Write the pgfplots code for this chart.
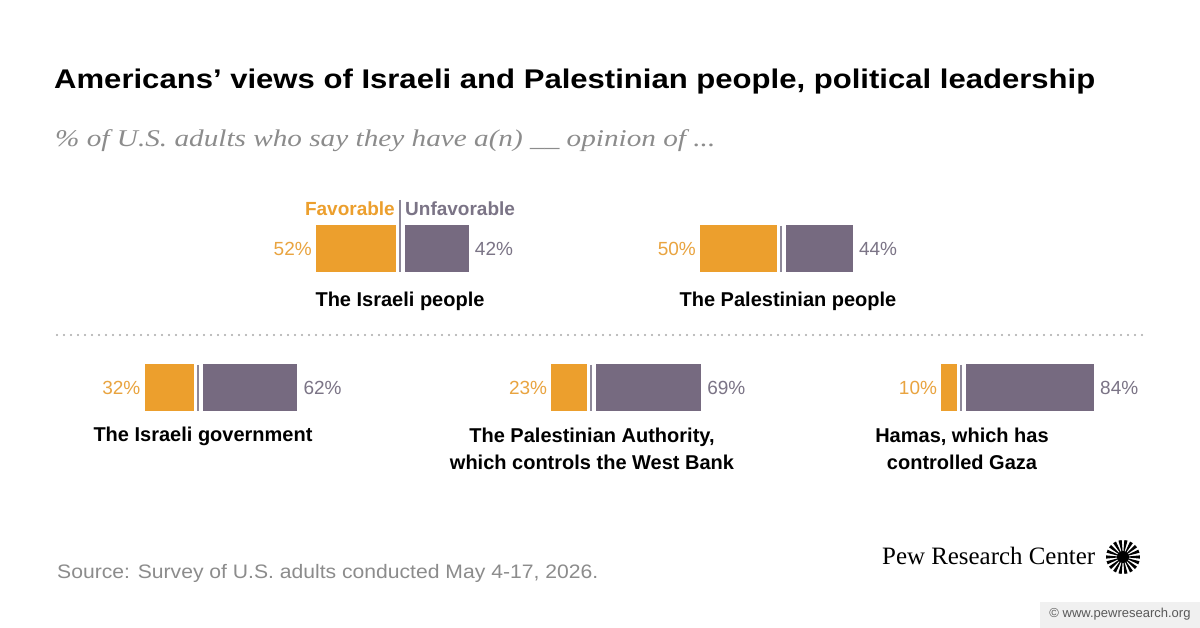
\documentclass[border=0pt]{standalone}
\usepackage{pgfplots}
\pgfplotsset{compat=1.18}
\usepackage{fontspec}
\usepackage{graphicx}
\setmainfont{Liberation Sans}
\newfontfamily\serifface{Liberation Serif}

\definecolor{favbar}{HTML}{EC9F2D}
\definecolor{favtxt}{HTML}{E9A440}
\definecolor{unfbar}{HTML}{766A80}
\definecolor{unftxt}{HTML}{7B7486}
\definecolor{midline}{HTML}{8E8899}
\definecolor{softgray}{HTML}{8C8C8C}
\definecolor{dotgray}{HTML}{A8A8A8}

% common look of every half-panel: one bar, no axis lines
\pgfplotsset{
  halfbar/.style={
    xbar, hide axis, clip=false, scale only axis,
    xmin=0, ymin=-1, ymax=1, height=47pt, bar width=47pt,
    point meta=x,
    /pgf/number format/assume math mode=true,
    nodes near coords={\pgfmathprintnumber{\pgfplotspointmeta}\%},
    every node near coord/.append style={font=\fontsize{19}{22}\selectfont, inner sep=1pt},
  }
}

% #1 = x of the centre line, #2 = y of the bar centre, #3 = favorable, #4 = unfavorable
\newcommand{\panel}[4]{%
  \begin{axis}[halfbar, at={(#1pt-4.5pt,#2pt)}, anchor=east, x dir=reverse,
      xmax=60, width=91.8pt]
    \addplot[fill=favbar, draw=none,
      every node near coord/.append style={anchor=east, text=favtxt, xshift=-3pt}]
      coordinates {(#3,0)};
  \end{axis}
  \begin{axis}[halfbar, at={(#1pt+4.5pt,#2pt)}, anchor=west,
      xmax=90, width=137.7pt]
    \addplot[fill=unfbar, draw=none,
      every node near coord/.append style={anchor=west, text=unftxt, xshift=5pt}]
      coordinates {(#4,0)};
  \end{axis}
}

\begin{document}
\begin{tikzpicture}[x=1pt,y=1pt]
\fill[white] (0,0) rectangle (1200,628);
\path[use as bounding box] (0,0) rectangle (1200,628);

% title and subtitle
\node[anchor=base west, inner sep=0] at (54,539)
  {\resizebox{1041pt}{\height}{\fontsize{27}{32}\selectfont\bfseries Americans’ views of Israeli and Palestinian people, political leadership}};
\node[anchor=base west, inner sep=0, text=softgray] at (55,481)
  {\resizebox{660pt}{\height}{\serifface\itshape\fontsize{24}{28}\selectfont \% of U.S. adults who say they have a(n) \_\_ opinion of ...}};

% column headers of the first panel
\node[anchor=base east, inner sep=0, text=favbar] at (395,412)
  {\fontsize{19}{22}\selectfont\bfseries Favorable};
\node[anchor=base west, inner sep=0, text=unftxt] at (405,412)
  {\fontsize{19}{22}\selectfont\bfseries Unfavorable};

% centre lines
\draw[midline, line width=1.6pt] (400,428) -- (400,356);
\draw[midline, line width=1.6pt] (781,402) -- (781,356);
\draw[midline, line width=1.6pt] (198,263) -- (198,217);
\draw[midline, line width=1.6pt] (591,263) -- (591,217);
\draw[midline, line width=1.6pt] (961,263) -- (961,217);

% the five panels
\panel{400}{379.5}{52}{42}
\panel{781}{379}{50}{44}
\panel{198}{240}{32}{62}
\panel{591}{240}{23}{69}
\panel{961}{240}{10}{84}

% panel labels (base = baseline of the last line)
\begin{scope}[every node/.style={anchor=base, inner sep=0, align=center,
    font=\fontsize{20}{27}\selectfont\bfseries}]
\node at (400,321) {The Israeli people};
\node at (788,321) {The Palestinian people};
\node at (203,186) {The Israeli government};
\node at (592,158) {The Palestinian Authority,\\which controls the West Bank};
\node at (962,158) {Hamas, which has\\controlled Gaza};
\end{scope}

% dotted separator
\draw[dotgray, line width=2.2pt, line cap=round, dash pattern=on 0pt off 7pt]
  (57,293) -- (1143,293);

% source
\node[anchor=base west, inner sep=0, text=softgray] at (57,49)
  {\resizebox{541pt}{\height}{\fontsize{19.5}{22}\selectfont Source: Survey of U.S. adults conducted May 4-17, 2026.}};

% brand
\node[anchor=base west, inner sep=0] at (882,63)
  {\resizebox{213pt}{\height}{\serifface\fontsize{25}{30}\selectfont Pew Research Center}};
\foreach \a in {0,20,...,340}
  \fill[black] (1123,71) -- +(\a-5.5:17) arc[start angle=\a-5.5, end angle=\a+5.5, radius=17] -- cycle;
\fill[black] (1123,71) circle (6);

\fill[black!6] (1040,0) rectangle (1200,26);
\node[text=black!65, inner sep=0] at (1120,14)
  {\fontsize{13}{15}\selectfont © www.pewresearch.org};
\end{tikzpicture}
\end{document}
